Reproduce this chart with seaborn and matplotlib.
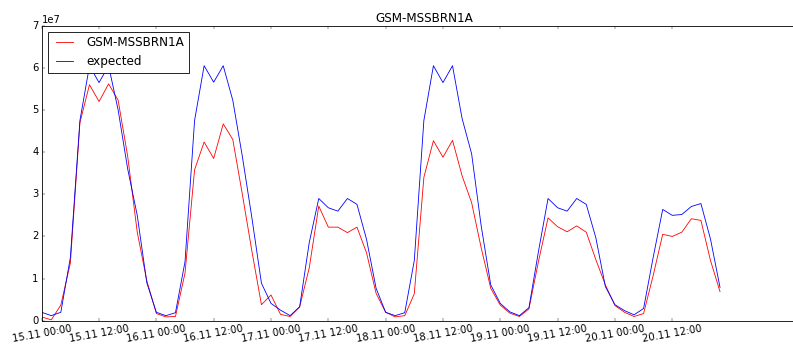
import numpy as np
import pandas as pd
import seaborn as sns
import matplotlib
matplotlib.use("Agg")
import matplotlib.pyplot as plt
import matplotlib.dates as mdates

START = "2016-11-15 00:00"
N_POINTS = 72
SERIES_NAME = "GSM-MSSBRN1A"

# values in units of 1e7, one point every 2 hours
actual = [
    0.09, 0.02, 0.37, 1.37, 4.70, 5.60, 5.20, 5.62, 5.23, 3.90, 2.10, 0.95,
    0.17, 0.09, 0.10, 1.13, 3.58, 4.24, 3.85, 4.67, 4.30, 3.00, 1.65, 0.38,
    0.61, 0.15, 0.10, 0.33, 1.25, 2.72, 2.22, 2.22, 2.09, 2.22, 1.61, 0.65,
    0.20, 0.09, 0.12, 0.64, 3.40, 4.27, 3.88, 4.28, 3.44, 2.80, 1.73, 0.77,
    0.37, 0.18, 0.10, 0.28, 1.41, 2.44, 2.23, 2.11, 2.25, 2.10, 1.45, 0.85,
    0.36, 0.20, 0.10, 0.17, 1.07, 2.05, 2.00, 2.10, 2.42, 2.38, 1.43, 0.69,
]
expected = [
    0.20, 0.12, 0.20, 1.50, 4.75, 6.05, 5.65, 6.05, 5.00, 3.60, 2.50, 0.90,
    0.20, 0.12, 0.19, 1.40, 4.75, 6.05, 5.66, 6.05, 5.23, 3.90, 2.44, 0.89,
    0.41, 0.25, 0.12, 0.33, 1.85, 2.90, 2.68, 2.60, 2.90, 2.76, 1.93, 0.77,
    0.20, 0.12, 0.19, 1.43, 4.75, 6.05, 5.65, 6.05, 4.80, 3.96, 2.25, 0.85,
    0.41, 0.21, 0.12, 0.31, 1.65, 2.90, 2.68, 2.60, 2.90, 2.76, 1.97, 0.81,
    0.38, 0.24, 0.14, 0.29, 1.50, 2.64, 2.50, 2.52, 2.71, 2.78, 1.94, 0.79,
]

plt.style.use("classic")

times = pd.date_range(START, periods=N_POINTS, freq="2h")
df = pd.DataFrame({
    "time": times,
    "actual": np.array(actual) * 1e7,
    "expected": np.array(expected) * 1e7,
})

fig = plt.figure(figsize=(793 / 60, 344 / 60))
ax = fig.add_axes([0.0526, 0.0677, 0.9638, 0.8576])

sns.lineplot(data=df, x="time", y="actual", color="r", label=SERIES_NAME, ax=ax)
sns.lineplot(data=df, x="time", y="expected", color="b", label="expected", ax=ax)

ax.set_xlim(times[0], times[0] + pd.Timedelta(hours=160))
ax.set_ylim(0, 7e7)
ax.set_xticks(times[::6])
ax.xaxis.set_major_formatter(mdates.DateFormatter("%d.%m %H:%M"))
plt.setp(ax.get_xticklabels(), rotation=10, ha="center")
ax.set_xlabel("")
ax.set_ylabel("")
ax.set_title(SERIES_NAME)
ax.legend(loc="upper left")

fig.savefig("out.png", dpi=60, facecolor="white")
plt.close()
